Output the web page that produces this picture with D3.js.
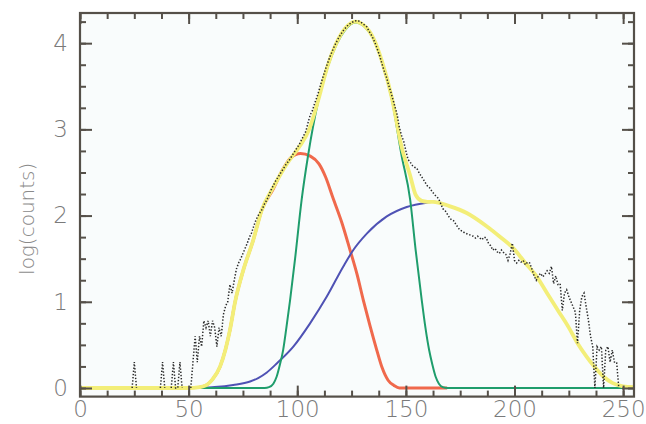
<!DOCTYPE html>
<html><head><meta charset="utf-8">
<script src="https://cdn.jsdelivr.net/npm/d3@7"></script>
<style>
html,body{margin:0;padding:0;background:#fff;}
svg{display:block;}
</style></head>
<body>
<svg id="chart" width="646" height="424"></svg>
<script>
// ---- data ----
const xMajorTicks = [0, 50, 100, 150, 200, 250];
const yMajorTicks = [0, 1, 2, 3, 4];
const yAxisLabel = "log(counts)";

// measured spectrum, one value per channel 0..255 (log counts)
const measured = [
  0,0,0,0,0,0,0,0,0,0,
  0,0,0,0,0,0,0,0,0,0,
  0,0,0,0,0,0.3,0,0,0,0,
  0,0,0,0,0,0,0,0,0.3,0,
  0,0,0,0.3,0,0,0.3,0,0,0,
  0,0,0.3,0.6,0.3,0.6,0.48,0.78,0.7,0.78,
  0.6,0.78,0.7,0.48,0.7,0.6,0.85,0.95,1.0,1.2,
  1.1,1.25,1.38,1.45,1.5,1.56,1.62,1.68,1.75,1.8,
  1.88,1.95,2.0,2.04,2.08,2.14,2.18,2.24,2.3,2.35,
  2.4,2.44,2.48,2.52,2.56,2.6,2.63,2.67,2.71,2.75,
  2.79,2.83,2.88,2.93,2.98,3.08,3.17,3.22,3.3,3.37,
  3.45,3.54,3.62,3.7,3.77,3.84,3.9,3.96,4.01,4.06,
  4.1,4.14,4.17,4.2,4.22,4.24,4.25,4.26,4.26,4.25,
  4.23,4.21,4.19,4.14,4.1,4.05,3.99,3.92,3.85,3.76,
  3.68,3.61,3.52,3.44,3.35,3.26,3.17,3.02,2.93,2.86,
  2.75,2.65,2.62,2.58,2.56,2.55,2.5,2.46,2.42,2.38,
  2.34,2.32,2.28,2.25,2.22,2.2,2.14,2.08,2.06,2.02,
  1.98,1.95,1.94,1.9,1.86,1.83,1.82,1.8,1.79,1.78,
  1.77,1.76,1.74,1.76,1.74,1.72,1.75,1.74,1.68,1.65,
  1.6,1.62,1.58,1.56,1.6,1.57,1.55,1.48,1.56,1.68,
  1.48,1.45,1.48,1.46,1.48,1.43,1.46,1.45,1.38,1.3,
  1.25,1.3,1.33,1.29,1.32,1.36,1.33,1.41,1.21,1.3,
  1.2,1.21,0.9,1.1,1.14,1.06,1.0,0.94,0.88,0.52,
  0.9,1.06,1.1,0.94,0.79,0.6,0.48,0,0.48,0.44,
  0.48,0,0.44,0.48,0.3,0.44,0.3,0.3,0,0,
  0,0,0,0,0,0
];

// fitted component 1 (red)
const redX = [55,58,61,64.5,67,69,71.4,75.2,79.8,83.6,89,93,97,101.5,106,110,113,116.5,120.5,124.3,127.5,130.4,133.5,136.6,139,141.8,144.5,147,169];
const redY = [0.01,0.03,0.1,0.25,0.45,0.67,1.0,1.37,1.72,2.06,2.31,2.52,2.67,2.72,2.69,2.6,2.45,2.2,1.92,1.6,1.32,1.02,0.72,0.44,0.24,0.09,0.03,0,0];

// fitted component 2 (green)
const greenX = [55,85,87,89,90.5,92,93.5,95,96.7,99,102,105,109.6,114,118,122,126.6,131,135,139,143.6,148,152,154.5,157.3,159,160.7,162.2,163.7,165.2,167,169,255];
const greenY = [0,0,0.01,0.05,0.13,0.27,0.44,0.7,1.02,1.5,2.18,2.7,3.32,3.72,3.98,4.15,4.24,4.19,4.05,3.78,3.34,2.7,2.18,1.6,1.02,0.7,0.44,0.27,0.13,0.05,0.01,0,0];

// fitted component 3 (blue)
const blueX = [55,62,70.5,78.3,82,86,90.8,98.2,105.9,113.6,121.2,125.8,132,141.2,150.4,159.6,163,170,178,187,194,199.5,205,210,215,220,225,229,233,237,241,245,250,255];
const blueY = [0,0.01,0.035,0.075,0.115,0.18,0.29,0.48,0.75,1.06,1.41,1.6,1.79,1.99,2.1,2.15,2.16,2.11,2.03,1.88,1.74,1.62,1.45,1.3,1.1,0.9,0.7,0.52,0.37,0.24,0.13,0.06,0.02,0.01];

// total fit (yellow)
const sumX = [0,50,55,58,61,64.5,67,69,71.4,75.2,79.8,83.6,89,95.2,101,105.5,110,114,118,122,126.6,131,135,139,143.6,148,151.9,154.5,157.3,160,162.5,170,178,187,194,199.5,205,210,215,220,225,229,233,237,241,245,250,255];
const sumY = [0,0,0.01,0.03,0.1,0.25,0.45,0.67,1.0,1.37,1.72,2.06,2.33,2.6,2.8,3.0,3.37,3.74,4.0,4.17,4.25,4.2,4.06,3.79,3.36,2.8,2.47,2.24,2.17,2.16,2.16,2.11,2.03,1.88,1.74,1.62,1.45,1.3,1.1,0.9,0.7,0.52,0.37,0.24,0.13,0.06,0.02,0.01];

// ---- drawing ----
(function draw() {
const W = 646, H = 424;
const pL = 80, pR = 634, pT = 13, pB = 396.6;
const svg = d3.select("#chart");
const x = d3.scaleLinear().domain([0, 255]).range([pL, pR]);
const y = d3.scaleLinear().domain([-0.1, 4.35]).range([pB, pT]);

svg.append("rect").attr("width", W).attr("height", H).attr("fill", "#ffffff");
svg.append("rect").attr("x", pL).attr("y", pT).attr("width", pR-pL).attr("height", pB-pT).attr("fill", "#f9fcfc");

svg.append("clipPath").attr("id","clip").append("rect")
  .attr("x", pL).attr("y", pT).attr("width", pR-pL).attr("height", pB-pT);
const plot = svg.append("g").attr("clip-path","url(#clip)");

const smooth = d3.line().x(d => x(d[0])).y(d => y(d[1])).curve(d3.curveMonotoneX);
const zipXY = (xs, ys) => xs.map((v, i) => [v, ys[i]]);

plot.append("path").datum(zipXY(redX, redY)).attr("d", smooth)
  .attr("fill","none").attr("stroke","#f0694c").attr("stroke-width",3);
plot.append("path").datum(zipXY(blueX, blueY)).attr("d", smooth)
  .attr("fill","none").attr("stroke","#4f52b4").attr("stroke-width",2);
plot.append("path").datum(zipXY(greenX, greenY)).attr("d", smooth)
  .attr("fill","none").attr("stroke","#1f9d6c").attr("stroke-width",2);
plot.append("path").datum(zipXY(sumX, sumY)).attr("d", smooth)
  .attr("fill","none").attr("stroke","#f3ee78").attr("stroke-width",3.8);

// measured dotted line: draw segments touching nonzero channels
const meas = measured.map((v, i) => ({
  c: i, v: v,
  def: v > 0 || (i > 0 && measured[i-1] > 0) || (i < measured.length-1 && measured[i+1] > 0)
}));
const lin = d3.line().defined(d => d.def).x(d => x(d.c)).y(d => y(d.v));
plot.append("path").datum(meas).attr("d", lin)
  .attr("fill","none").attr("stroke","#2a2a2a").attr("stroke-width",1.5)
  .attr("stroke-dasharray","1.4 1.8");

// ---- axes ----
const axisColor = "#555049";
const xMinor = d3.range(0, 255, 12.5);
const yMinor = d3.range(0, 4.35, 0.25);
const fontFam = "'DejaVu Sans', sans-serif";

function style(g) {
  g.select(".domain").remove();
  g.selectAll(".tick line").attr("stroke", axisColor).attr("stroke-width", 2);
  g.selectAll("text").attr("fill", "#7a7a7a").style("font-family", fontFam)
    .style("font-size","23px").style("font-weight","200");
}

svg.append("g").attr("transform",`translate(0,${pB})`)
  .call(d3.axisBottom(x).tickValues(xMinor).tickSize(-6).tickFormat("")).call(style);
svg.append("g").attr("transform",`translate(0,${pB})`)
  .call(d3.axisBottom(x).tickValues(xMajorTicks).tickSize(-11).tickPadding(4).tickFormat(d3.format("d"))).call(style);
svg.append("g").attr("transform",`translate(0,${pT})`)
  .call(d3.axisTop(x).tickValues(xMinor).tickSize(-6).tickFormat("")).call(style);
svg.append("g").attr("transform",`translate(0,${pT})`)
  .call(d3.axisTop(x).tickValues(xMajorTicks).tickSize(-11).tickFormat("")).call(style);

svg.append("g").attr("transform",`translate(${pL},0)`)
  .call(d3.axisLeft(y).tickValues(yMinor).tickSize(-6).tickFormat("")).call(style);
svg.append("g").attr("transform",`translate(${pL},0)`)
  .call(d3.axisLeft(y).tickValues(yMajorTicks).tickSize(-12).tickPadding(12).tickFormat(d3.format("d"))).call(style);
svg.append("g").attr("transform",`translate(${pR},0)`)
  .call(d3.axisRight(y).tickValues(yMinor).tickSize(-6).tickFormat("")).call(style);
svg.append("g").attr("transform",`translate(${pR},0)`)
  .call(d3.axisRight(y).tickValues(yMajorTicks).tickSize(-12).tickFormat("")).call(style);

svg.append("rect").attr("x", pL).attr("y", pT).attr("width", pR-pL).attr("height", pB-pT)
  .attr("fill","none").attr("stroke", axisColor).attr("stroke-width", 2.2);

svg.append("text").attr("transform", `translate(27,${(pT+pB)/2 + 14}) rotate(-90)`)
  .attr("text-anchor","middle").attr("dy","0.35em")
  .style("font-family", fontFam).style("font-size","20px").style("font-weight","200")
  .attr("fill","#8a8a8a").text(yAxisLabel);
})();
</script>
</body></html>
